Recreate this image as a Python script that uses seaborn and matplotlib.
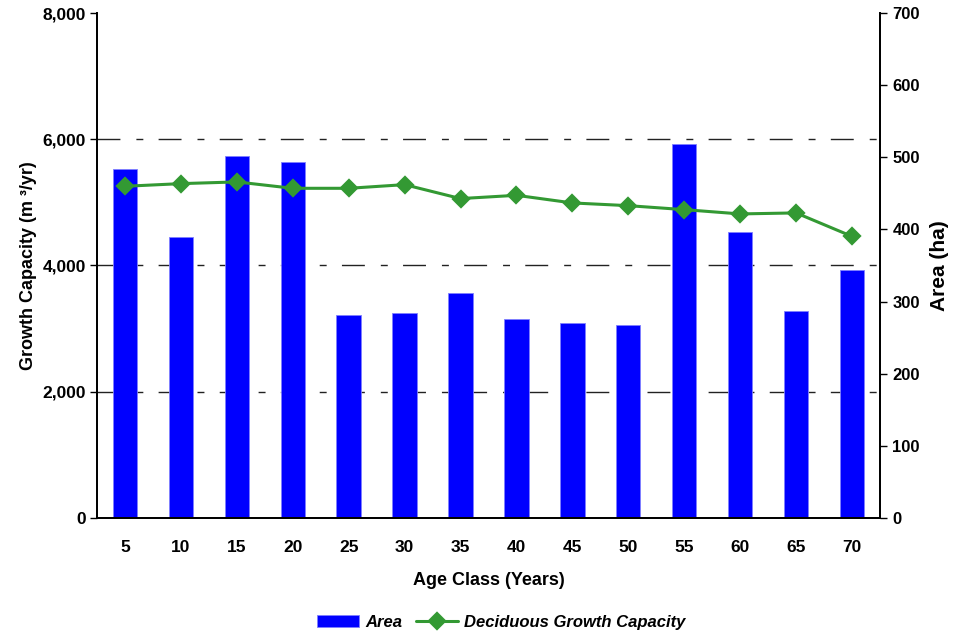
import numpy as np
import pandas as pd
import matplotlib
matplotlib.use('Agg')
import matplotlib.pyplot as plt
import seaborn as sns

# Data
age_class = ['5', '10', '15', '20', '25', '30', '35', '40', '45', '50', '55', '60', '65', '70']
area_ha = [484, 390, 502, 494, 282, 284, 312, 276, 270, 267, 519, 397, 287, 344]
growth_capacity = [5255, 5297, 5324, 5223, 5223, 5281, 5060, 5112, 4991, 4948, 4885, 4817, 4833, 4461]

growth_ticks = [0, 2000, 4000, 6000, 8000]
area_ticks = [0, 100, 200, 300, 400, 500, 600, 700]

df = pd.DataFrame({'age': age_class, 'area': area_ha, 'growth': growth_capacity})

sns.set_style('white')
plt.rcParams['font.family'] = ['Liberation Sans', 'DejaVu Sans']
plt.rcParams['font.weight'] = 'bold'
for key in ('text.color', 'axes.labelcolor', 'xtick.color', 'ytick.color'):
    plt.rcParams[key] = 'black'

fig = plt.figure(figsize=(9.59, 6.35), dpi=100)
ax = fig.add_axes([0.1011, 0.1843, 0.8165, 0.7952])
ax2 = ax.twinx()

# bars on the right (area) axis
sns.barplot(data=df, x='age', y='area', ax=ax2, color='#0000FF', saturation=1,
            width=0.435, label='Area', errorbar=None)
for p in ax2.patches:
    p.set_edgecolor('#7f7fff')
    p.set_linewidth(0.6)

# line on the left (growth) axis
sns.pointplot(data=df, x='age', y='growth', ax=ax, color='#339933', markers='D',
              markersize=8.5, linewidth=2.2, label='Deciduous Growth Capacity', errorbar=None)

for a in (ax, ax2):
    if a.get_legend() is not None:
        a.get_legend().remove()

ax.set_zorder(ax2.get_zorder() + 1)
ax.patch.set_visible(False)

ax.set_ylim(0, 8000)
ax2.set_ylim(0, 700)
ax.set_xlim(-0.5, len(age_class) - 0.5)

ax.set_yticks(growth_ticks)
ax.set_yticklabels([f'{v:,}' for v in growth_ticks])
ax2.set_yticks(area_ticks)

# dashed grid at left-axis ticks, drawn behind the bars
grid_vals = [v * 700 / 8000 for v in growth_ticks[1:-1]]
ax2.set_yticks(grid_vals, minor=True)
ax2.set_axisbelow(True)
ax2.grid(which='minor', axis='y', color='#222222', linewidth=1.0,
         linestyle=(0, (16.5, 11.5, 5, 11)))
ax2.tick_params(axis='y', which='minor', length=0)
ax.grid(False)
ax2.grid(which='major', visible=False)

# x ticks: labels at centres, tick marks at the boundaries
ax.set_xticks(np.arange(len(age_class)))
ax.set_xticklabels(age_class)
ax.set_xticks(np.arange(-0.5, len(age_class), 1), minor=True)
ax.tick_params(axis='x', which='major', length=0, pad=16, labelsize=12.5)
ax.tick_params(axis='x', which='minor', direction='inout', length=9, width=1, color='black')
ax2.tick_params(axis='x', which='both', length=0)

ax.tick_params(axis='y', which='major', direction='out', length=5, width=1,
               color='black', labelsize=12.5, pad=3, left=True)
ax2.tick_params(axis='y', which='major', direction='out', length=5, width=1,
                color='black', labelsize=12, pad=4, right=True)

for a in (ax, ax2):
    a.spines['top'].set_visible(False)
    for s in ('left', 'right', 'bottom'):
        a.spines[s].set_color('black')
        a.spines[s].set_linewidth(1.3)

ax.set_xlabel('Age Class (Years)', fontsize=13, fontweight='bold', labelpad=12)
ax.set_ylabel('Growth Capacity (m ³/yr)', fontsize=13, fontweight='bold', labelpad=4)
ax2.set_ylabel('Area (ha)', fontsize=15, fontweight='bold', labelpad=7)

for lbl in ax.get_xticklabels() + ax.get_yticklabels() + ax2.get_yticklabels():
    lbl.set_fontweight('bold')

h1, l1 = ax2.get_legend_handles_labels()
h2, l2 = ax.get_legend_handles_labels()
fig.legend(h1 + h2, l1 + l2, loc='center', bbox_to_anchor=(0.523, 0.02), ncol=2,
           frameon=False, handlelength=2.5, handleheight=0.75, handletextpad=0.4,
           columnspacing=0.8, prop={'weight': 'bold', 'style': 'italic', 'size': 12})

fig.savefig('out.png', dpi=100)
